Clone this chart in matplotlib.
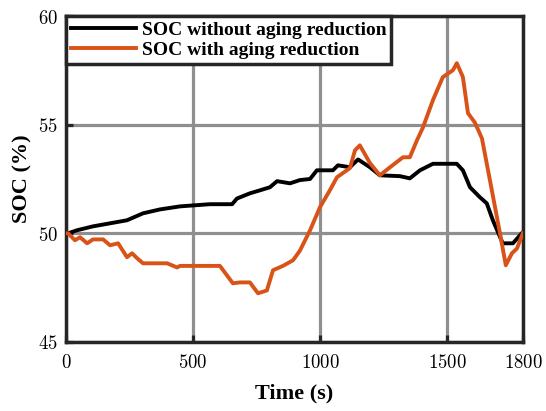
import matplotlib
matplotlib.use("Agg")
from matplotlib import pyplot as plt

# SOC without aging reduction (black)
t_base = [0, 8, 43, 106, 173, 240, 303, 370, 449, 567, 654, 673, 724, 764, 803, 831, 882,
          921, 961, 988, 1051, 1071, 1118, 1150, 1197, 1236, 1315, 1354, 1394, 1445, 1539,
          1563, 1591, 1630, 1657, 1681, 1720, 1760, 1795]
soc_base = [50.0, 50.0, 50.14, 50.32, 50.46, 50.6, 50.92, 51.1, 51.24, 51.34, 51.34, 51.6,
            51.84, 51.98, 52.12, 52.4, 52.3, 52.45, 52.5, 52.9, 52.9, 53.13, 53.04, 53.4,
            53.04, 52.67, 52.63, 52.53, 52.9, 53.2, 53.2, 52.9, 52.12, 51.66, 51.38, 50.6,
            49.54, 49.54, 50.0]

# SOC with aging reduction (orange)
t_red = [0, 8, 35, 55, 83, 106, 146, 173, 205, 240, 260, 280, 303, 358, 398, 437, 449, 606,
         634, 657, 685, 724, 756, 791, 815, 854, 894, 921, 961, 1000, 1039, 1067, 1118,
         1138, 1157, 1197, 1236, 1276, 1327, 1354, 1382, 1406, 1445, 1484, 1524, 1539,
         1563, 1583, 1610, 1638, 1677, 1709, 1732, 1756, 1776, 1799]
soc_red = [50.0, 50.0, 49.68, 49.82, 49.54, 49.72, 49.72, 49.45, 49.54, 48.9, 49.08, 48.85,
           48.62, 48.62, 48.62, 48.43, 48.5, 48.5, 48.06, 47.7, 47.74, 47.74, 47.24, 47.37,
           48.3, 48.5, 48.76, 49.2, 50.14, 51.2, 51.98, 52.58, 53.0, 53.82, 54.05, 53.23,
           52.67, 53.04, 53.5, 53.5, 54.28, 54.88, 56.13, 57.19, 57.51, 57.83, 57.19, 55.53,
           55.1, 54.37, 51.98, 50.0, 48.53, 49.08, 49.3, 50.0]

xticks = [0, 500, 1000, 1500, 1800]
yticks = [45, 50, 55, 60]

plt.rcParams['mathtext.fontset'] = 'cm'
serif = 'Liberation Serif'

fig = plt.figure(figsize=(5.46, 4.11), dpi=100)
ax = fig.add_axes([0.121, 0.168, 0.837, 0.793])

ax.plot(t_base, soc_base, color='black', lw=2.8, label='SOC without aging reduction', zorder=3)
ax.plot(t_red, soc_red, color='#d95319', lw=2.8, label='SOC with aging reduction', zorder=3)

ax.set_xlim(0, 1800)
ax.set_ylim(45, 60)
ax.set_xticks(xticks)
ax.set_yticks(yticks)
ax.set_xticklabels(['$%d$' % v for v in xticks], fontsize=13.5)
ax.set_yticklabels(['$%d$' % v for v in yticks], fontsize=13.5)
ax.tick_params(direction='in', length=5, width=2.3, color='#262626')
ax.tick_params(axis='x', pad=8)
ax.tick_params(axis='y', pad=6)

ax.grid(True, color='#8f8f8f', lw=2.3)
ax.set_axisbelow(True)
for s in ax.spines.values():
    s.set_linewidth(2.5)
    s.set_color('#262626')

ax.set_xlabel('Time (s)', fontfamily=serif, fontweight='bold', fontsize=16, labelpad=8)
ax.set_ylabel('SOC (%)', fontfamily=serif, fontweight='bold', fontsize=16, labelpad=4)

leg = ax.legend(loc='upper left', bbox_to_anchor=(0, 1), borderaxespad=0,
                prop={'family': serif, 'weight': 'bold', 'size': 14},
                fancybox=False, framealpha=1, edgecolor='#262626',
                handlelength=3.35, handletextpad=0.3, labelspacing=0.15,
                borderpad=0.25)
leg.get_frame().set_linewidth(2.5)

fig.savefig('out.png', dpi=100)
